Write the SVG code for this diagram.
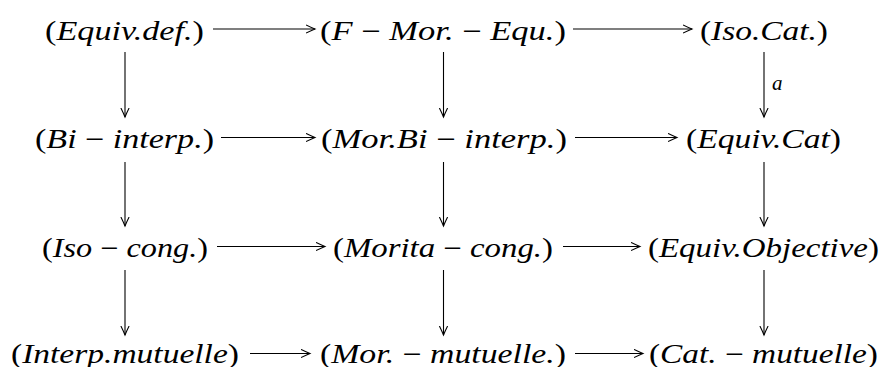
<svg xmlns="http://www.w3.org/2000/svg" width="881" height="367" viewBox="0 0 881 367">
<style>
  .t { font-family: "Liberation Serif", "Times New Roman", serif; font-style: italic; font-size: 27px; fill: #000; }
  .u { font-style: normal; }
  .lbl { font-family: "Liberation Serif", "Times New Roman", serif; font-style: italic; font-size: 21px; fill: #000; }
  .c line { stroke: #000; stroke-width: 1.1; fill: none; marker-end: url(#ah); }
</style>
<defs>
  <marker id="ah" markerWidth="12" markerHeight="12" refX="9.5" refY="5" orient="auto" markerUnits="userSpaceOnUse">
    <path d="M0.5,0.9 Q6,3.6 9.5,5 Q6,6.4 0.5,9.1" fill="none" stroke="#000" stroke-width="1.1"/>
  </marker>
</defs>
<rect width="881" height="367" fill="#fff"/>
<g id="connectors" class="c">
  <line x1="213" y1="29" x2="315" y2="29"/>
  <line x1="573" y1="29" x2="692" y2="29"/>
  <line x1="221" y1="137.5" x2="315" y2="137.5"/>
  <line x1="575" y1="137.5" x2="677" y2="137.5"/>
  <line x1="217" y1="246.5" x2="325" y2="246.5"/>
  <line x1="563" y1="246.5" x2="640" y2="246.5"/>
  <line x1="250" y1="353.5" x2="310" y2="353.5"/>
  <line x1="575" y1="353.5" x2="643" y2="353.5"/>
  <line x1="125" y1="52" x2="125" y2="117"/>
  <line x1="443.5" y1="52" x2="443.5" y2="117"/>
  <line x1="764" y1="52" x2="764" y2="117"/>
  <line x1="125" y1="162" x2="125" y2="226"/>
  <line x1="443.5" y1="162" x2="443.5" y2="226"/>
  <line x1="764" y1="162" x2="764" y2="226"/>
  <line x1="125" y1="270" x2="125" y2="335"/>
  <line x1="443.5" y1="270" x2="443.5" y2="335"/>
  <line x1="764" y1="270" x2="764" y2="335"/>
  <text class="lbl" x="772" y="90">a</text>
</g>
<g id="equiv-def"><text class="t" x="45" y="39.5" textLength="159" lengthAdjust="spacingAndGlyphs"><tspan class="u">(</tspan>Equiv.def.<tspan class="u">)</tspan></text></g>
<g id="f-mor-equ"><text class="t" x="320" y="39.5" textLength="246" lengthAdjust="spacingAndGlyphs"><tspan class="u">(</tspan>F<tspan class="u"> − </tspan>Mor.<tspan class="u"> − </tspan>Equ.<tspan class="u">)</tspan></text></g>
<g id="iso-cat"><text class="t" x="700" y="39.5" textLength="128" lengthAdjust="spacingAndGlyphs"><tspan class="u">(</tspan>Iso.Cat.<tspan class="u">)</tspan></text></g>
<g id="bi-interp"><text class="t" x="35" y="148" textLength="179" lengthAdjust="spacingAndGlyphs"><tspan class="u">(</tspan>Bi<tspan class="u"> − </tspan>interp.<tspan class="u">)</tspan></text></g>
<g id="mor-bi-interp"><text class="t" x="321" y="148" textLength="246" lengthAdjust="spacingAndGlyphs"><tspan class="u">(</tspan>Mor.Bi<tspan class="u"> − </tspan>interp.<tspan class="u">)</tspan></text></g>
<g id="equiv-cat"><text class="t" x="686" y="148" textLength="155" lengthAdjust="spacingAndGlyphs"><tspan class="u">(</tspan>Equiv.Cat<tspan class="u">)</tspan></text></g>
<g id="iso-cong"><text class="t" x="42" y="257" textLength="166" lengthAdjust="spacingAndGlyphs"><tspan class="u">(</tspan>Iso<tspan class="u"> − </tspan>cong.<tspan class="u">)</tspan></text></g>
<g id="morita-cong"><text class="t" x="333" y="257" textLength="220" lengthAdjust="spacingAndGlyphs"><tspan class="u">(</tspan>Morita<tspan class="u"> − </tspan>cong.<tspan class="u">)</tspan></text></g>
<g id="equiv-objective"><text class="t" x="648" y="257" textLength="231" lengthAdjust="spacingAndGlyphs"><tspan class="u">(</tspan>Equiv.Objective<tspan class="u">)</tspan></text></g>
<g id="interp-mutuelle"><text class="t" x="11" y="362.5" textLength="228" lengthAdjust="spacingAndGlyphs"><tspan class="u">(</tspan>Interp.mutuelle<tspan class="u">)</tspan></text></g>
<g id="mor-mutuelle"><text class="t" x="320" y="362.5" textLength="246" lengthAdjust="spacingAndGlyphs"><tspan class="u">(</tspan>Mor.<tspan class="u"> − </tspan>mutuelle.<tspan class="u">)</tspan></text></g>
<g id="cat-mutuelle"><text class="t" x="649" y="362.5" textLength="229" lengthAdjust="spacingAndGlyphs"><tspan class="u">(</tspan>Cat.<tspan class="u"> − </tspan>mutuelle<tspan class="u">)</tspan></text></g>
</svg>
